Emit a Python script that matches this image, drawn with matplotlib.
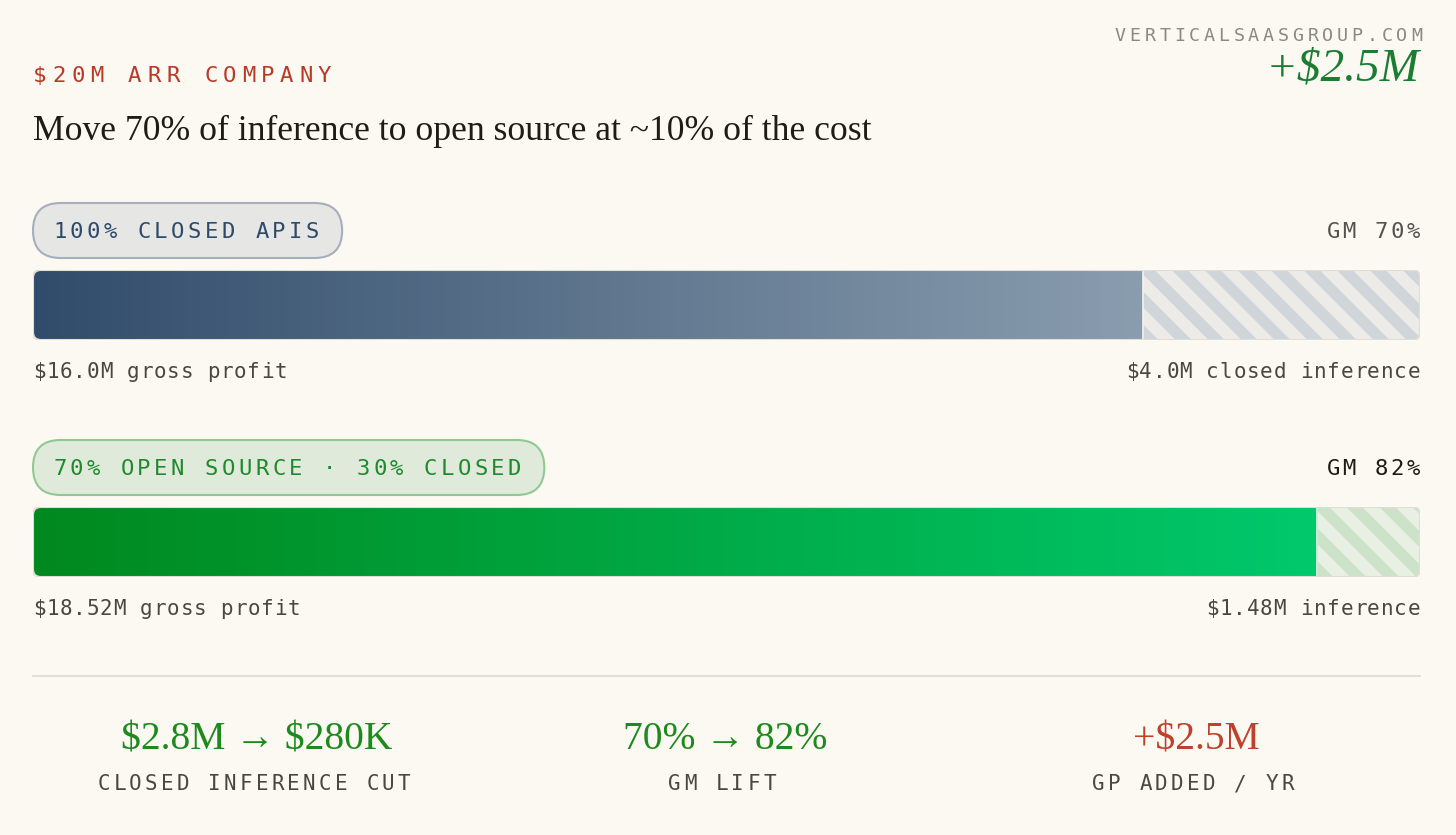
import numpy as np
import matplotlib
matplotlib.use("Agg")
import matplotlib.pyplot as plt
from matplotlib.patches import FancyBboxPatch, Polygon
from matplotlib.colors import LinearSegmentedColormap

W, H = 1456, 835

# data
arr = 20.0
scenarios = ["100% CLOSED APIS", "70% OPEN SOURCE \u00b7 30% CLOSED"]
gross_profit = [16.0, 18.52]
inference = [4.0, 1.48]
gm = [70, 82]
profit_labels = ["$16.0M gross profit", "$18.52M gross profit"]
cost_labels = ["$4.0M closed inference", "$1.48M inference"]
stat_values = ["$2.8M \u2192 $280K", "70% \u2192 82%", "+$2.5M"]
stat_labels = ["CLOSED INFERENCE CUT", "GM LIFT", "GP ADDED / YR"]

BG = "#fcf9f3"
MONO = "DejaVu Sans Mono"
SERIF = ["Liberation Serif", "DejaVu Serif"]

fig = plt.figure(figsize=(W / 100, H / 100), dpi=100, facecolor=BG)
ax = fig.add_axes([0, 0, 1, 1])
ax.set_xlim(0, W)
ax.set_ylim(H, 0)
ax.axis("off")


def mono(x, y, s, size, step, color, ha="left"):
    """monospace text with letter spacing, returns right edge"""
    cw = 0.602 * size * 100 / 72
    total = cw + (len(s) - 1) * step
    if ha == "right":
        x = x - total
    elif ha == "center":
        x = x - total / 2
    for i, ch in enumerate(s):
        ax.text(x + cw / 2 + i * step, y, ch, fontsize=size, family=MONO,
                color=color, ha="center", va="baseline", parse_math=False)
    return x + total


# header
mono(33, 82, "$20M ARR COMPANY", 16, 19.0, "#b83a26")
mono(1422, 41, "VERTICALSAASGROUP.COM", 13.2, 14.8, "#8c8883", ha="right")
ax.text(1420, 80, "+$2.5M", fontsize=34, family=SERIF, style="italic",
        color="#1a7d32", ha="right", va="baseline", parse_math=False)
ax.text(33, 140, "Move 70% of inference to open source at ~10% of the cost",
        fontsize=25.7, family=SERIF, color="#1f1c18", ha="left", va="baseline",
        parse_math=False)

pill_fill = ["#e6e6e5", "#dfeadb"]
pill_edge = ["#a6afbc", "#91c993"]
pill_text = ["#2d4a6a", "#1f8a2c"]
gm_color = ["#555250", "#1f1c18"]
grad = [("#314c6b", "#8a9daf"), ("#00891e", "#00c96c")]
hatch_bg = ["#ecebe7", "#e8f0e3"]
hatch_fg = ["#d0d5da", "#cde3c9"]

bar_top = [270, 507]
bar_h = 70
x0, x1 = 33, 1420

for k in range(2):
    top = bar_top[k]
    # pill label
    base = top - 32
    right = mono(53, base, scenarios[k], 16, 16.85, pill_text[k])
    ph = 55
    pill = FancyBboxPatch((33, top - 67), right + 23 - 33, ph,
                          boxstyle="round,pad=0,rounding_size=27.5",
                          fc=pill_fill[k], ec=pill_edge[k], lw=1.5)
    ax.add_patch(pill)
    mono(1420, base, "GM %d%%" % gm[k], 16, 16.0, gm_color[k], ha="right")

    # bar axes in data units
    bax = fig.add_axes([x0 / W, 1 - (top + bar_h) / H, (x1 - x0) / W, bar_h / H])
    bax.set_xlim(0, arr)
    bax.set_ylim(0, 1)
    bax.axis("off")
    px_x = (x1 - x0) / arr
    r = 8 / px_x
    aspect = px_x / bar_h
    outline = FancyBboxPatch((0, 0), arr, 1,
                             boxstyle="round,pad=0,rounding_size=%f" % r,
                             mutation_aspect=aspect, fc=hatch_bg[k], ec="none")
    bax.add_patch(outline)

    # stripes
    period = 33 / px_x
    sw = 16 / px_x
    dx = bar_h / px_x
    for s in np.arange(gross_profit[k] - dx, arr + period, period):
        st = Polygon([(s, 1), (s + sw, 1), (s + sw + dx, 0), (s + dx, 0)],
                     closed=True, fc=hatch_fg[k], ec="none")
        bax.add_patch(st)
        st.set_clip_path(outline)

    cmap = LinearSegmentedColormap.from_list("g%d" % k, grad[k])
    im = bax.imshow(np.linspace(0, 1, 256).reshape(1, -1), cmap=cmap,
                    extent=(0, gross_profit[k], 0, 1), aspect="auto",
                    interpolation="bilinear", zorder=3)
    im.set_clip_path(outline)
    ln = bax.axvline(gross_profit[k], color="#f4f4f0", lw=1.2, zorder=4)
    ln.set_clip_path(outline)
    border = FancyBboxPatch((0, 0), arr, 1,
                            boxstyle="round,pad=0,rounding_size=%f" % r,
                            mutation_aspect=aspect, fc="none", ec="#e0ddd5",
                            lw=1.5, zorder=5)
    bax.add_patch(border)

    # labels under bar
    lb = top + bar_h + 38
    mono(33, lb, profit_labels[k], 15, 13.4, "#4a4642")
    mono(1420, lb, cost_labels[k], 15, 13.4, "#4a4642", ha="right")

# divider
ax.plot([33, 1420], [676, 676], color="#dedad2", lw=1.2)

# bottom stats
stat_x = [257, 725, 1196]
stat_col = ["#1e8a1e", "#1e8a1e", "#c0412b"]
for i in range(3):
    ax.text(stat_x[i], 749, stat_values[i], fontsize=28.5, family=SERIF,
            color=stat_col[i], ha="center", va="baseline", parse_math=False)
    mono(stat_x[i] - 3, 790, stat_labels[i], 15, 15.8, "#4a4642", ha="center")

fig.savefig("out.png", dpi=100, facecolor=BG)
